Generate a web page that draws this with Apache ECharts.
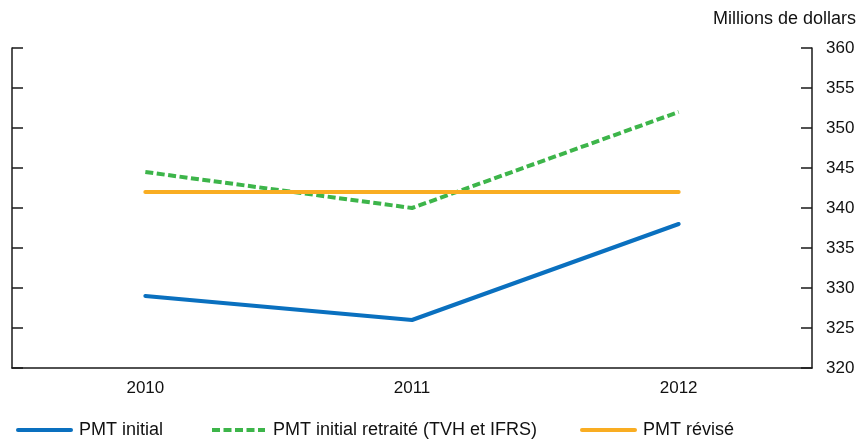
<!DOCTYPE html>
<html>
<head>
<meta charset="utf-8">
<script src="https://cdn.jsdelivr.net/npm/echarts@6/dist/echarts.min.js"></script>
<style>
  html, body { margin: 0; padding: 0; background: #fff; }
  #chart { width: 860px; height: 441px; }
</style>
</head>
<body>
<div id="chart"></div>
<script>
// données
const years = ['2010', '2011', '2012'];
const pmtInitial = [329, 326, 338];
const pmtRetraite = [344.5, 340, 352];
const pmtRevise = [342, 342, 342];
const seriesNames = ['PMT initial', 'PMT initial retraité (TVH et IFRS)', 'PMT révisé'];

const FONT = 'Liberation Sans, Arial, Helvetica, sans-serif';
const colors = ['#0a70bf', '#3db54a', '#f9ad22'];

let myChart = echarts.init(document.getElementById('chart'));

// une légende par série pour placer chaque élément
const legendLefts = [16, 210, 580];
const legends = seriesNames.map((n, i) => ({
    left: legendLefts[i],
    top: 421,
    orient: 'horizontal',
    data: [n],
    itemWidth: 53,
    itemHeight: 14,
    padding: 0,
    itemStyle: { opacity: 0 },
    lineStyle: { width: 4 },
    textStyle: { fontFamily: FONT, fontSize: 18, color: '#111', padding: [0, 0, 0, 3] },
    selectedMode: false
}));

const yAxisCommon = {
    type: 'value',
    min: 320,
    max: 360,
    interval: 5,
    splitLine: { show: false },
    axisLine: { show: true, lineStyle: { color: '#1a1a1a', width: 1.5 } },
    axisTick: { show: true, inside: true, length: 11, lineStyle: { color: '#1a1a1a', width: 1.5 } }
};

let option = {
    backgroundColor: '#fff',
    animation: false,
    legend: legends,
    grid: { left: 12, right: 48, top: 48, bottom: 73 },
    graphic: [{
        type: 'text',
        right: 4,
        top: 10,
        style: { text: 'Millions de dollars', font: '18px ' + FONT, fill: '#111' }
    }],
    xAxis: {
        type: 'category',
        data: years,
        boundaryGap: true,
        axisLine: { lineStyle: { color: '#1a1a1a', width: 1.5 } },
        axisTick: { inside: true, length: 11, lineStyle: { color: '#1a1a1a', width: 1.5 } },
        axisLabel: { margin: 12, fontFamily: FONT, fontSize: 17, color: '#111' }
    },
    yAxis: [
        Object.assign({}, yAxisCommon, {
            position: 'right',
            axisLabel: { margin: 14, fontFamily: FONT, fontSize: 17, color: '#111' }
        }),
        Object.assign({}, yAxisCommon, {
            position: 'left',
            axisLabel: { show: false }
        })
    ],
    series: [
        {
            name: seriesNames[0],
            type: 'line',
            data: pmtInitial,
            symbol: 'none',
            color: colors[0],
            lineStyle: { width: 4, color: colors[0], cap: 'round' }
        },
        {
            name: seriesNames[1],
            type: 'line',
            data: pmtRetraite,
            symbol: 'none',
            color: colors[1],
            lineStyle: { width: 4, color: colors[1], type: [8, 3.5] }
        },
        {
            name: seriesNames[2],
            type: 'line',
            data: pmtRevise,
            symbol: 'none',
            color: colors[2],
            lineStyle: { width: 4, color: colors[2], cap: 'round' }
        }
    ]
};
option && myChart.setOption(option);
</script>
</body>
</html>
